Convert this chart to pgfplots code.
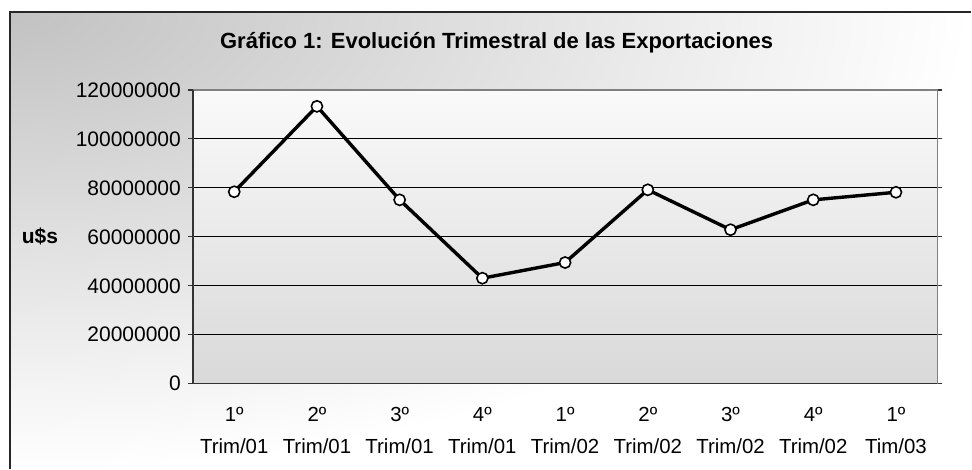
\documentclass[border=0pt]{standalone}
\usepackage{pgfplots}
\pgfplotsset{compat=1.18}
\usepackage{fontspec}
\setmainfont{Liberation Sans}

\begin{document}
\begin{tikzpicture}
\path (0,0) rectangle (486pt,234.5pt);
\begin{scope}
\clip (5pt,0pt) rectangle (486pt,228.5pt);
\shade[inner color=black!24, outer color=white] (-475pt,-1.5pt) rectangle (485pt,458.5pt);
\end{scope}
\draw[black!85, line width=0.7pt] (5pt,0pt) -- (5pt,228.5pt) -- (486pt,228.5pt);

\begin{axis}[
  at={(96.5pt,42.5pt)}, anchor=south west,
  scale only axis, width=372.5pt, height=147pt,
  xmin=-0.5, xmax=8.5, ymin=0, ymax=120000000,
  scaled y ticks=false,
  axis background/.style={top color=black!2, bottom color=black!15},
  axis line style={draw=none},
  ytick={0,20000000,40000000,60000000,80000000,100000000,120000000},
  yticklabels={0,20000000,40000000,60000000,80000000,100000000,120000000},
  xtick={0,1,2,3,4,5,6,7,8},
  xticklabels={{1º\\Trim/01},{2º\\Trim/01},{3º\\Trim/01},{4º\\Trim/01},{1º\\Trim/02},{2º\\Trim/02},{3º\\Trim/02},{4º\\Trim/02},{1º\\Tim/03}},
  xtick style={draw=none},
  minor xtick={-0.5,0.5,1.5,2.5,3.5,4.5,5.5,6.5,7.5,8.5},
  minor x tick style={black!80, line width=0.6pt},
  minor tick length=2.5pt,
  major tick length=2.5pt,
  tick align=outside,
  ytick style={black!80, line width=0.6pt},
  ymajorgrids,
  major grid style={black, line width=0.5pt},
  yticklabel style={font=\fontsize{10.5pt}{12pt}\selectfont},
  xticklabel style={align=center, font=\fontsize{10.2pt}{16pt}\selectfont, yshift=-5.5pt},
  ylabel={u\$s},
  ylabel style={rotate=-90, at={(rel axis cs:0,0.5)}, anchor=center, xshift=-76.5pt, font=\bfseries\fontsize{10.5pt}{12pt}\selectfont},
  clip=false,
]
\addplot[black, line width=1.7pt, mark=*, mark size=2.8pt,
  mark options={fill=white, draw=black, line width=0.8pt}]
  coordinates {(0,78400000) (1,113300000) (2,75100000) (3,43100000) (4,49500000)
               (5,79200000) (6,62900000) (7,75100000) (8,78200000)};
\draw[black!50, line width=0.7pt] (rel axis cs:0,1) -- (rel axis cs:1,1) -- (rel axis cs:1,0);
\draw[black!80, line width=0.7pt] (rel axis cs:0,1) -- (rel axis cs:0,0) -- (rel axis cs:1,0);
\end{axis}

\node[font=\bfseries\fontsize{11pt}{13pt}\selectfont, anchor=base] at (248.5pt,210pt)
  {Gráfico 1: Evolución Trimestral de las Exportaciones};
\end{tikzpicture}
\end{document}
